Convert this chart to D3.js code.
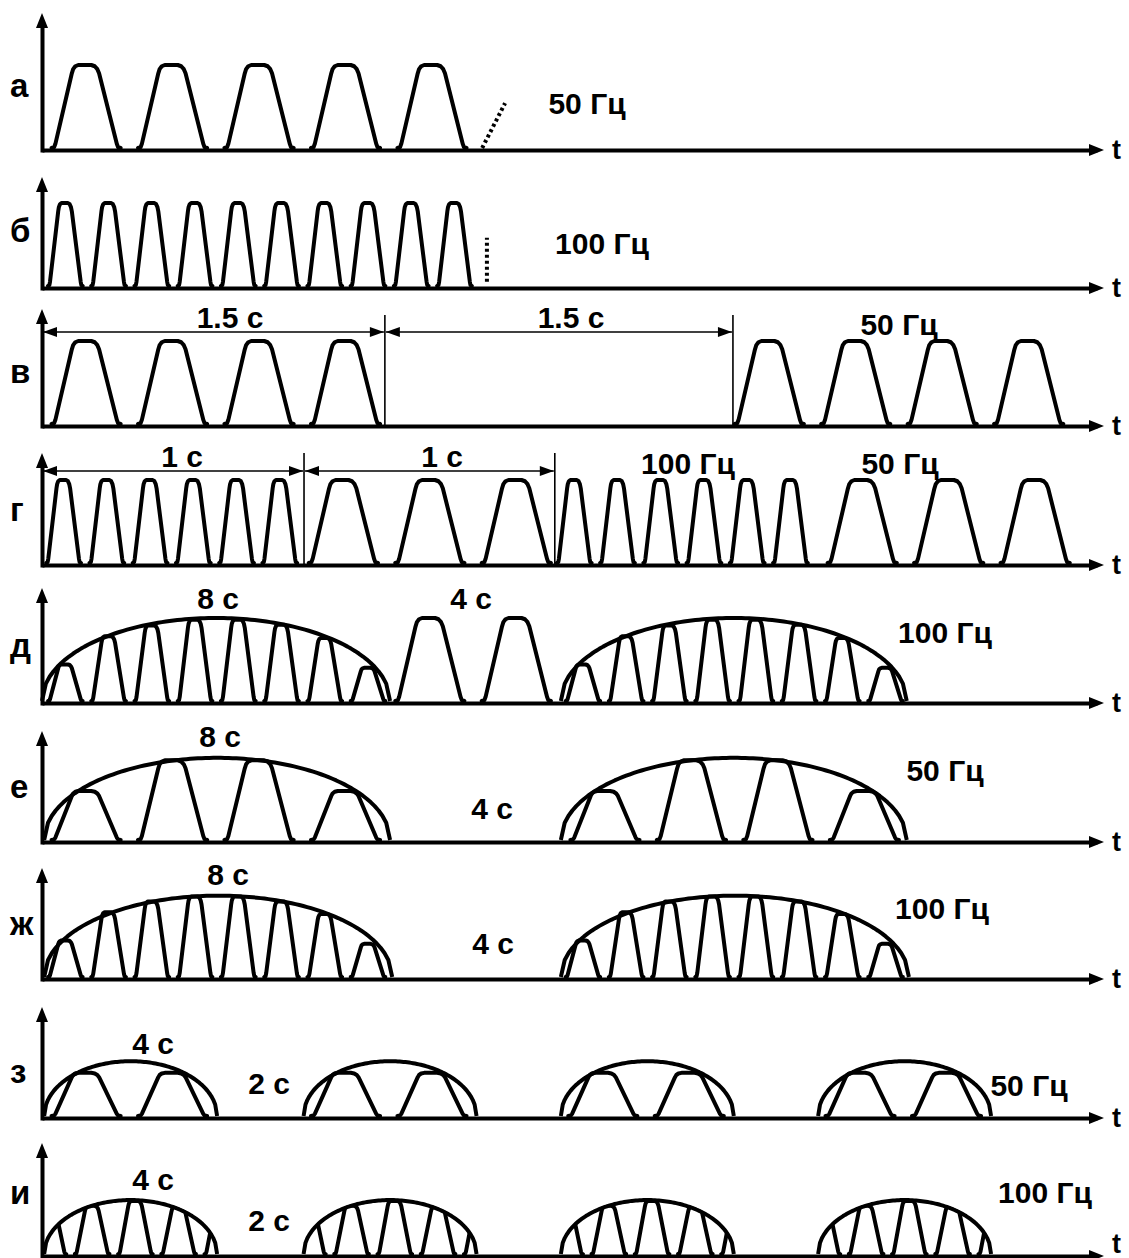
<!DOCTYPE html>
<html><head><meta charset="utf-8">
<script src="https://cdn.jsdelivr.net/npm/d3@7"></script>
<style>
body{margin:0;background:#fff}
svg{display:block}
text{font-family:"Liberation Sans",Arial,sans-serif;font-weight:bold;fill:#000}
</style>
</head><body>
<svg id="c" width="1129" height="1258"></svg>
<script>
// ---------------- DATA (time in ms, amplitude relative) ----------------
const timeDomain = [0, 244];
const panelNames = ["а","б","в","г","д","е","ж","з","и"];

const startsA50 = [3, 23, 43, 63, 83];
const dottedA = [[101.8, 0.0], [107.1, 0.54]];

const startsB100 = [1.8, 11.8, 21.8, 31.8, 41.8, 51.8, 61.8, 71.8, 81.8, 91.8];
const dottedB = [[102.9, 0.05], [102.9, 0.58]];

const startsV50 = [3, 23, 43, 63, 161, 181, 201, 221];
const dimsV = [[0, 79.3], [79.3, 159.8]];
const dimLabelsV = ["1.5 с", "1.5 с"];

const startsG100 = [1.4, 11.4, 21.4, 31.4, 41.4, 51.4, 119.5, 129.5, 139.5, 149.5, 159.5, 169.5];
const startsG50 = [62.5, 82.5, 102.5, 182.5, 202.5, 222.5];
const dimsG = [[0, 60.6], [60.6, 118.6]];
const dimLabelsG = ["1 с", "1 с"];

const envD = [[0, 80.5], [120, 200]];
const envDAmp = [1.0, 1.0];
const startsD100 = [1.8, 11.8, 21.8, 31.8, 41.8, 51.8, 61.8, 71.8, 121.5, 131.5, 141.5, 151.5, 161.5, 171.5, 181.5, 191.5];
const ampsD100 = [0.44, 0.78, 0.91, 0.98, 0.98, 0.92, 0.76, 0.40, 0.44, 0.78, 0.91, 0.98, 0.98, 0.92, 0.76, 0.40];
const startsD50 = [82.5, 102.5];

const envE = [[0.5, 80.5], [120, 200]];
const envEAmp = [0.99, 0.99];
const startsE50 = [3, 23, 43, 63, 123, 143, 163, 183];
const ampsE50 = [0.59, 0.96, 0.96, 0.59, 0.59, 0.96, 0.96, 0.59];

const envZh = [[0.5, 81], [120, 200.5]];
const envZhAmp = [0.98, 0.98];
const startsZh100 = [1.8, 11.8, 21.8, 31.8, 41.8, 51.8, 61.8, 71.8, 121.5, 131.5, 141.5, 151.5, 161.5, 171.5, 181.5, 191.5];
const ampsZh100 = [0.44, 0.78, 0.91, 0.97, 0.97, 0.91, 0.76, 0.40, 0.44, 0.78, 0.91, 0.97, 0.97, 0.91, 0.76, 0.40];

const envZ = [[0.5, 40.5], [60.5, 100.5], [120, 160], [179.5, 219.5]];
const envZAmp = [0.66, 0.66, 0.66, 0.66];
const startsZ50 = [3, 23, 63, 83, 122.5, 142.5, 182, 202];
const ampsZ50 = [0.52, 0.52, 0.52, 0.52, 0.52, 0.52, 0.52, 0.52];

const envI = [[0.5, 40.5], [60.5, 100.5], [120, 160], [179.5, 219.5]];
const envIAmp = [0.65, 0.65, 0.65, 0.65];
const startsI100 = [-2, 8, 18, 28, 38, 58, 68, 78, 88, 98, 117.5, 127.5, 137.5, 147.5, 157.5, 177, 187, 197, 207, 217];
const ampsI100 = [0.6, 0.58, 0.64, 0.57, 0.6, 0.6, 0.58, 0.64, 0.57, 0.6, 0.6, 0.58, 0.64, 0.57, 0.6, 0.6, 0.58, 0.64, 0.57, 0.6];

// normalized pulse outline: [phase of period, fraction of amplitude]
const pulseShape = [[-0.04,0],[-0.01,0.01],[0.005,0.05],[0.195,0.9],[0.21,0.95],[0.235,0.985],[0.27,1],
  [0.42,1],[0.46,0.985],[0.49,0.95],[0.51,0.9],[0.715,0.05],[0.73,0.01],[0.76,0]];

// ---------------- LAYOUT ----------------
const W = 1129, H = 1258;
const axisYs = [150, 288, 426, 565, 703, 842, 979, 1118, 1256];
const axisTops = [13, 177, 309, 453, 588, 731, 868, 1007, 1143];
const letterBase = [97, 242, 383, 521, 657, 798, 935, 1083, 1204];
const tBase = [159, 297, 435, 574, 712, 851, 988, 1127, 1253];
const UNIT = 83;
const FS = 30;
const LFS = 33;
const freqLabels = [
  [["50 Гц", 587, 114]],
  [["100 Гц", 602, 254]],
  [["50 Гц", 899, 335]],
  [["100 Гц", 688, 474], ["50 Гц", 900, 474]],
  [["8 с", 218, 609], ["4 с", 471, 609], ["100 Гц", 945, 643]],
  [["8 с", 220, 747], ["4 с", 492, 819], ["50 Гц", 945, 781]],
  [["8 с", 228, 885], ["4 с", 493, 954], ["100 Гц", 942, 919]],
  [["4 с", 153, 1054], ["2 с", 269, 1094], ["50 Гц", 1029, 1096]],
  [["4 с", 153, 1190], ["2 с", 269, 1231], ["100 Гц", 1045, 1203]]
];
const dimLayout = { 2: {y: 332, top: 315, labelX: [230, 571], labelY: 328},
                    3: {y: 471, top: 453, labelX: [182, 442], labelY: 467} };

// ---------------- DRAW ----------------
const svg = d3.select("#c");
svg.append("rect").attr("width", W).attr("height", H).attr("fill", "#fff");
const x = d3.scaleLinear().domain(timeDomain).range([42, 1097]);

function trains(starts, period, amps) {
  return starts.map((s, i) => ({t0: s, period, amp: amps ? amps[i] : 1}));
}
function envPts(e, amp) {
  return d3.range(0, 1.0001, 1 / 90).map(f => {
    const u = 2 * f - 1;
    return [e[0] + (e[1] - e[0]) * f, amp * Math.sqrt(Math.max(0, 1 - u * u))];
  });
}

const specs = [
  {pulses: trains(startsA50, 20), dotted: dottedA},
  {pulses: trains(startsB100, 10), dotted: dottedB},
  {pulses: trains(startsV50, 20), dims: dimsV, dimLabels: dimLabelsV},
  {pulses: trains(startsG100, 10).concat(trains(startsG50, 20)), dims: dimsG, dimLabels: dimLabelsG},
  {pulses: trains(startsD100, 10, ampsD100).concat(trains(startsD50, 20)), env: envD, envAmp: envDAmp},
  {pulses: trains(startsE50, 20, ampsE50), env: envE, envAmp: envEAmp},
  {pulses: trains(startsZh100, 10, ampsZh100), env: envZh, envAmp: envZhAmp},
  {pulses: trains(startsZ50, 20, ampsZ50), env: envZ, envAmp: envZAmp},
  {pulses: trains(startsI100, 10, ampsI100), env: envI, envAmp: envIAmp, clip: true}
];

const defs = svg.append("defs");

specs.forEach((spec, i) => {
  const ay = axisYs[i];
  const y = d3.scaleLinear().domain([0, 1]).range([ay - 2, ay - 2 - UNIT]);
  const g = svg.append("g");
  const line = d3.line().x(d => x(d[0])).y(d => y(d[1]));

  let pg = g.append("g");
  if (spec.clip) {
    const cp = defs.append("clipPath").attr("id", "clip" + i);
    spec.env.forEach((e, k) => {
      const pts = envPts([e[0] - 0.3, e[1] + 0.3], spec.envAmp[k] + 0.02);
      cp.append("path").attr("d", line(pts) + `L${x(e[1] + 0.3)},${ay + 6}L${x(e[0] - 0.3)},${ay + 6}Z`);
    });
    pg.attr("clip-path", `url(#clip${i})`);
  }
  // pulses
  pg.selectAll("path.pulse").data(spec.pulses).join("path")
    .attr("class", "pulse")
    .attr("d", p => line(pulseShape.map(s => [p.t0 + s[0] * p.period, s[1] * p.amp])))
    .attr("fill", "none").attr("stroke", "#000").attr("stroke-width", 4)
    .attr("stroke-linejoin", "round").attr("stroke-linecap", "round");

  // envelopes
  if (spec.env) {
    g.selectAll("path.env").data(spec.env).join("path")
      .attr("class", "env")
      .attr("d", (e, k) => line(envPts(e, spec.envAmp[k])))
      .attr("fill", "none").attr("stroke", "#000").attr("stroke-width", 4)
      .attr("stroke-linejoin", "round");
  }
  // dotted continuation
  if (spec.dotted) {
    g.append("path").attr("d", line(spec.dotted))
      .attr("fill", "none").attr("stroke", "#000").attr("stroke-width", 4)
      .attr("stroke-dasharray", "3,3");
  }
  // dimension lines
  if (spec.dims) {
    const L = dimLayout[i];
    const seps = Array.from(new Set(spec.dims.flat().filter(t => t > 0)));
    g.selectAll("line.sep").data(seps).join("line")
      .attr("x1", t => x(t)).attr("x2", t => x(t))
      .attr("y1", L.top).attr("y2", ay)
      .attr("stroke", "#000").attr("stroke-width", 1.6);
    spec.dims.forEach((d, k) => {
      const xa = x(d[0]) + 1, xb = x(d[1]) - 1;
      g.append("line").attr("x1", xa).attr("x2", xb).attr("y1", L.y).attr("y2", L.y)
        .attr("stroke", "#000").attr("stroke-width", 1.6);
      g.append("path").attr("d", `M${xa},${L.y}L${xa + 14},${L.y - 5}L${xa + 14},${L.y + 5}Z`);
      g.append("path").attr("d", `M${xb},${L.y}L${xb - 14},${L.y - 5}L${xb - 14},${L.y + 5}Z`);
      g.append("text").attr("x", L.labelX[k]).attr("y", L.labelY)
        .attr("text-anchor", "middle").attr("font-size", FS).text(spec.dimLabels[k]);
    });
  }
  // axes
  const xa = g.append("g").attr("transform", `translate(0,${ay})`)
    .call(d3.axisBottom(x).tickValues([]).tickSizeOuter(0));
  xa.select(".domain").attr("stroke", "#000").attr("stroke-width", 4);
  g.append("path").attr("d", `M1089,${ay - 6}L1104,${ay}L1089,${ay + 6}Z`);
  const yAx = d3.scaleLinear().domain([0, 1]).range([ay + 2, axisTops[i] + 10]);
  const ya = g.append("g").attr("transform", "translate(42,0)")
    .call(d3.axisLeft(yAx).tickValues([]).tickSizeOuter(0));
  ya.select(".domain").attr("stroke", "#000").attr("stroke-width", 4);
  g.append("path").attr("d", `M36,${axisTops[i] + 15}L42,${axisTops[i]}L48,${axisTops[i] + 15}Z`);

  // texts
  g.append("text").attr("x", 1112).attr("y", tBase[i]).attr("font-size", 27).text("t");
  g.append("text").attr("x", 10).attr("y", letterBase[i]).attr("font-size", LFS).text(panelNames[i]);
  freqLabels[i].forEach(l => {
    g.append("text").attr("x", l[1]).attr("y", l[2]).attr("text-anchor", "middle")
      .attr("font-size", FS).text(l[0]);
  });
});
</script>
</body></html>
